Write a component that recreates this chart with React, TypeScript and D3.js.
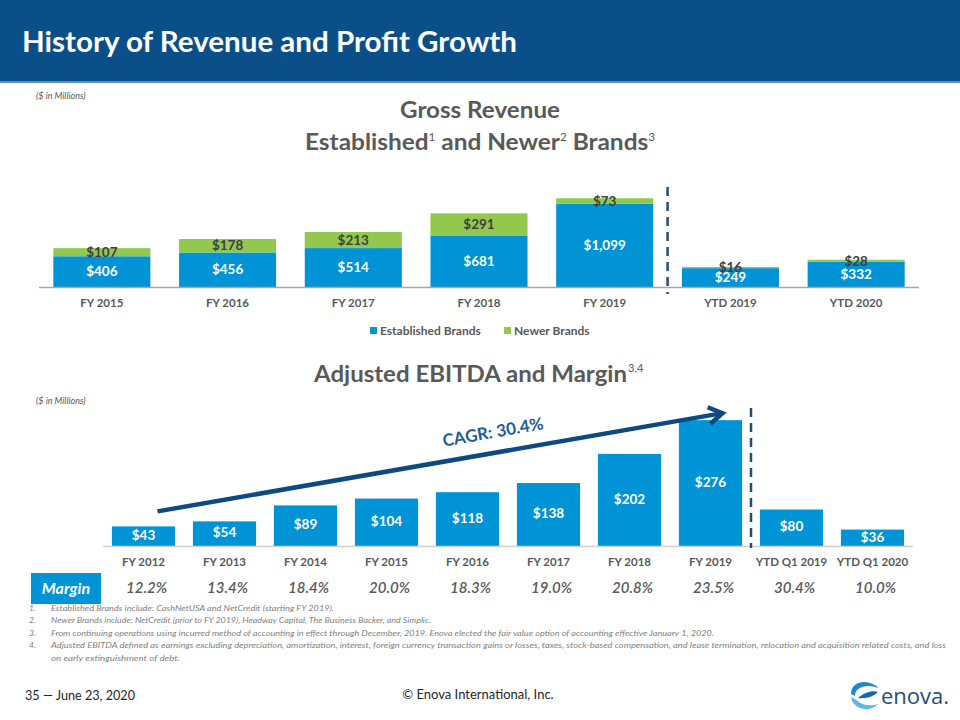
import React from "react";
import * as d3 from "d3";

const topCategories = ["FY 2015", "FY 2016", "FY 2017", "FY 2018", "FY 2019", "YTD 2019", "YTD 2020"];
const establishedBrands = [406, 456, 514, 681, 1099, 249, 332];
const newerBrands = [107, 178, 213, 291, 73, 16, 28];

const ebitdaCategories = ["FY 2012", "FY 2013", "FY 2014", "FY 2015", "FY 2016", "FY 2017", "FY 2018", "FY 2019", "YTD Q1 2019", "YTD Q1 2020"];
const ebitdaValues = [43, 54, 89, 104, 118, 138, 202, 276, 80, 36];
const marginLabels = ["12.2%", "13.4%", "18.4%", "20.0%", "18.3%", "19.0%", "20.8%", "23.5%", "30.4%", "10.0%"];

const footnotes = [
  "Established Brands include: CashNetUSA and NetCredit (starting FY 2019).",
  "Newer Brands include: NetCredit (prior to FY 2019), Headway Capital, The Business Backer, and Simplic.",
  "From continuing operations using incurred method of accounting in effect through December, 2019. Enova elected the fair value option of accounting effective January 1, 2020.",
  "Adjusted EBITDA defined as earnings excluding depreciation, amortization, interest, foreign currency transaction gains or losses, taxes, stock-based compensation, and lease termination, relocation and acquisition related costs, and loss",
];
const footnoteCont = "on early extinguishment of debt.";
const footnoteWidths = [283, 380, 663, 895];

const BLUE = "#0094D6";
const GREEN = "#92C84E";
const NAVY = "#0B4F88";
const GRAY = "#595959";
const FONT = "Lato, 'Open Sans', sans-serif";

const fmt = (v: number) => "$" + d3.format(",")(v);

export default function App() {
  const W = 960, H = 720;

  // Top chart scales
  const xTop = d3.scaleBand<string>().domain(topCategories).range([39, 919]).paddingInner(0.228).paddingOuter(0.114);
  const yTop = d3.scaleLinear().domain([0, 1400]).range([287, 181]);
  const stackData = topCategories.map((c, i) => ({ c, est: establishedBrands[i], nw: newerBrands[i] }));
  const stacked = d3.stack<any>().keys(["est", "nw"])(stackData);
  const bwT = xTop.bandwidth();
  const dashTopX = (xTop("FY 2019")! + bwT + xTop("YTD 2019")!) / 2;

  // Bottom chart scales
  const xB = d3.scaleBand<string>().domain(ebitdaCategories).range([103, 913]).paddingInner(0.22).paddingOuter(0.11);
  const yB = d3.scaleLinear().domain([0, 300]).range([546, 409.2]);
  const bwB = xB.bandwidth();
  const dashBotX = (xB("FY 2019")! + bwB + xB("YTD Q1 2019")!) / 2;

  const ax0 = xB("FY 2012")! + bwB / 2 + 14;
  const ay0 = yB(43) - 15;
  const ax1 = xB("FY 2019")! + bwB / 2 + 12;
  const ay1 = yB(276) - 7;
  const ang = Math.atan2(ay1 - ay0, ax1 - ax0);
  const ah = 16;
  const head = (a: number) => [ax1 - ah * Math.cos(ang + a), ay1 - ah * Math.sin(ang + a)];
  const h1 = head(0.55), h2 = head(-0.55);

  return (
    <svg width={W} height={H} viewBox={`0 0 ${W} ${H}`} style={{ display: "block", position: "absolute", left: 0, top: 0, background: "#fff" }} fontFamily={FONT}>
      {/* Header */}
      <rect x={0} y={0} width={W} height={81} fill={NAVY} />
      <rect x={0} y={81} width={W} height={2} fill="#5A8FC0" />
      <text x={22} y={52} fill="#fff" fontSize={28} fontWeight="bold" textLength={495} lengthAdjust="spacingAndGlyphs">History of Revenue and Profit Growth</text>

      {/* Top chart titles */}
      <text x={36} y={99} fill={GRAY} fontSize={9} fontStyle="italic">($ in Millions)</text>
      <text x={480} y={118} fill={GRAY} fontSize={23} fontWeight="bold" textAnchor="middle" textLength={160} lengthAdjust="spacingAndGlyphs">Gross Revenue</text>
      <text x={305} y={150} fill={GRAY} fontSize={23} fontWeight="bold" textLength={350} lengthAdjust="spacingAndGlyphs">
        Established<tspan fontSize={11} fontWeight="normal" dy={-9}>1</tspan><tspan dy={9}> and Newer</tspan><tspan fontSize={11} fontWeight="normal" dy={-9}>2</tspan><tspan dy={9}> Brands</tspan><tspan fontSize={11} fontWeight="normal" dy={-9}>3</tspan>
      </text>

      {/* Top chart bars */}
      {stacked.map((layer, li) => (
        <g key={layer.key}>
          {layer.map((d: any, i: number) => (
            <rect key={i} x={xTop(d.data.c)} y={yTop(d[1])} width={bwT} height={yTop(d[0]) - yTop(d[1])} fill={li === 0 ? BLUE : GREEN} />
          ))}
        </g>
      ))}
      {stacked.map((layer, li) => (
        <g key={"l" + layer.key}>
          {layer.map((d: any, i: number) => (
            <text key={i} x={xTop(d.data.c)! + bwT / 2} y={(yTop(d[0]) + yTop(d[1])) / 2} dy="0.35em" textAnchor="middle" fontSize={13.5} fontWeight="bold" fill={li === 0 ? "#fff" : "#404040"}>
              {fmt(li === 0 ? d.data.est : d.data.nw)}
            </text>
          ))}
        </g>
      ))}
      <line x1={39} x2={919} y1={287.5} y2={287.5} stroke="#A6A6A6" strokeWidth={1.5} />
      {topCategories.map((c) => (
        <text key={c} x={xTop(c)! + bwT / 2} y={303} dy="0.35em" textAnchor="middle" fontSize={11.5} fontWeight="bold" fill={GRAY}>{c}</text>
      ))}
      <line x1={dashTopX} x2={dashTopX} y1={187} y2={294} stroke="#1F4E79" strokeWidth={2.5} strokeDasharray="9,6" />

      {/* Legend */}
      <rect x={370} y={327} width={7} height={7} fill={BLUE} />
      <text x={380} y={331} dy="0.35em" fontSize={12} fontWeight="bold" fill={GRAY}>Established Brands</text>
      <rect x={504} y={327} width={7} height={7} fill={GREEN} />
      <text x={514} y={331} dy="0.35em" fontSize={12} fontWeight="bold" fill={GRAY}>Newer Brands</text>

      {/* Bottom chart titles */}
      <text x={314} y={382} fill={GRAY} fontSize={23} fontWeight="bold" textLength={313} lengthAdjust="spacingAndGlyphs">Adjusted EBITDA and Margin</text>
      <text x={628} y={372} fill={GRAY} fontSize={11}>3,4</text>
      <text x={36} y={404} fill={GRAY} fontSize={9} fontStyle="italic">($ in Millions)</text>

      {/* Bottom bars */}
      {ebitdaCategories.map((c, i) => (
        <g key={c}>
          <rect x={xB(c)} y={yB(ebitdaValues[i])} width={bwB} height={yB(0) - yB(ebitdaValues[i])} fill={BLUE} />
          <text x={xB(c)! + bwB / 2} y={(yB(0) + yB(ebitdaValues[i])) / 2 - 1} dy="0.35em" textAnchor="middle" fontSize={13.5} fontWeight="bold" fill="#fff">{fmt(ebitdaValues[i])}</text>
          <text x={xB(c)! + bwB / 2} y={562} dy="0.35em" textAnchor="middle" fontSize={11.5} fontWeight="bold" fill={GRAY}>{c}</text>
          <text x={xB(c)! + bwB / 2 + 3} y={588} dy="0.35em" textAnchor="middle" fontSize={15} fontStyle="italic" fontWeight={600} fill={GRAY}>{marginLabels[i]}</text>
        </g>
      ))}
      <line x1={103} x2={913} y1={546.5} y2={546.5} stroke="#D0D0D0" strokeWidth={1.5} />
      <line x1={dashBotX} x2={dashBotX} y1={408} y2={548} stroke="#1F4E79" strokeWidth={2.5} strokeDasharray="9,6" />

      {/* CAGR arrow */}
      <line x1={ax0} y1={ay0} x2={ax1} y2={ay1} stroke="#0E4A80" strokeWidth={4.5} />
      <polyline points={`${h1[0]},${h1[1]} ${ax1},${ay1} ${h2[0]},${h2[1]}`} fill="none" stroke="#0E4A80" strokeWidth={4.5} strokeLinejoin="miter" />
      <text x={493} y={432} dy="0.35em" textAnchor="middle" fontSize={17} fontWeight="bold" fill="#1D5B98" transform={`rotate(-10, 493, 432)`}>CAGR: 30.4%</text>

      {/* Margin box */}
      <rect x={31} y={573} width={70} height={31} fill={BLUE} />
      <text x={66} y={588.5} dy="0.35em" textAnchor="middle" fontSize={16} fontStyle="italic" fontWeight="bold" fill="#fff">Margin</text>

      {/* Footnotes */}
      {footnotes.map((f, i) => (
        <g key={i}>
          <text x={29} y={611 + i * 12.3} fontSize={8.5} fontStyle="italic" fill="#7F7F7F">{i + 1}.</text>
          <text x={51} y={611 + i * 12.3} fontSize={8.5} fontStyle="italic" fill="#7F7F7F" textLength={footnoteWidths[i]} lengthAdjust="spacingAndGlyphs">{f}</text>
        </g>
      ))}
      <text x={51} y={660.5} fontSize={8.5} fontStyle="italic" fill="#7F7F7F" textLength={129} lengthAdjust="spacingAndGlyphs">{footnoteCont}</text>

      {/* Footer */}
      <text x={25} y={700} fontSize={13} fill="#262626" textLength={110} lengthAdjust="spacingAndGlyphs">35 — June 23, 2020</text>
      <text x={478} y={699} fontSize={13} fill="#262626" textAnchor="middle">© Enova International, Inc.</text>

      {/* Logo */}
      <g transform="translate(864,696)">
        <path d="M-13,-2 C-13,-12 -3,-16 6,-13 C10,-12 13,-10 14,-8 C9,-10 2,-11 -4,-8 C-8,-6 -9,-3 -9,0 Z" fill="#1C8AD0" />
        <path d="M-13,1 C-12,9 -4,14 5,13 C9,12 12,10 14,8 C8,10 0,10 -5,6 C-8,4 -10,2 -13,1 Z" fill="#5DB5E8" />
        <path d="M-6,2 C0,-3 8,-6 14,-4 C10,0 3,3 -6,2 Z" fill="#0F6BB0" />
      </g>
      <text x={881} y={704} fontSize={22} fill="#1D4F7C" fontFamily="'Open Sans', sans-serif">enova.</text>
    </svg>
  );
}
